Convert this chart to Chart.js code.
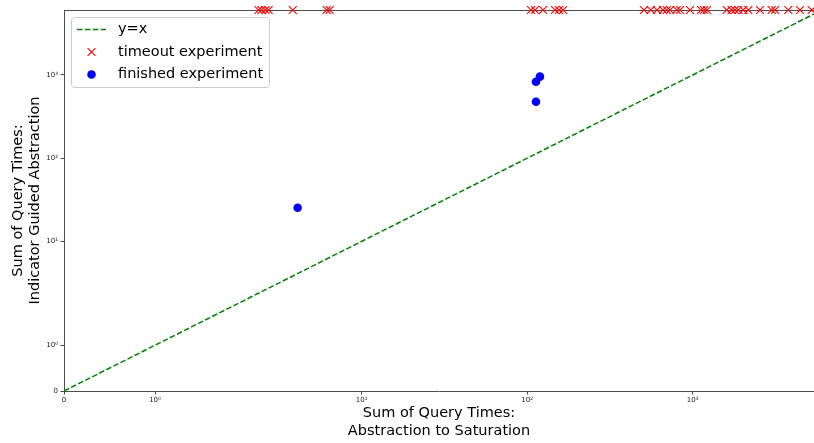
<!DOCTYPE html>
<html><head><meta charset="utf-8">
<script src="https://cdn.jsdelivr.net/npm/chart.js@4.4.1/dist/chart.umd.min.js"></script>
<style>
html,body{margin:0;padding:0;background:#fff;overflow:hidden;width:814px;height:443px}
#wrap{width:814px;height:443px}
</style>
</head><body><div id="wrap"><canvas id="c" width="814" height="443"></canvas></div>
<script>
// ---------- data ----------
const tickValues = [0, 1, 10, 100, 1000];
const tickLabels = ['0', '10\u2070', '10\u00b9', '10\u00b2', '10\u00b3'];
const axisMaxX = 5407;
const axisMaxY = 6040;
const legendLabels = ['y=x', 'timeout experiment', 'finished experiment'];
const xTitle = ['Sum of Query Times:', 'Abstraction to Saturation'];
const yTitle = ['Sum of Query Times:', 'Indicator Guided Abstraction'];

const timeoutX = [2.38, 2.48, 2.62, 2.74, 3.83, 6.14, 6.40, 105.4, 111.4, 124.6, 147.2, 155.7, 164.6,
  507.7, 557.5, 608.5, 661.5, 696.5, 729.2, 800.6, 838.3, 963, 1122, 1170, 1220,
  1605, 1720, 1802, 1886, 2021, 2168, 2551, 3001, 3143, 3781, 4448, 5236];
const timeoutY = [6040, 6040, 6040, 6040, 6040, 6040, 6040, 6040, 6040, 6040, 6040, 6040, 6040,
  6040, 6040, 6040, 6040, 6040, 6040, 6040, 6040, 6040, 6040, 6040, 6040,
  6040, 6040, 6040, 6040, 6040, 6040, 6040, 6040, 6040, 6040, 6040, 6040];
const finishedX = [4.10, 113, 119.4, 113];
const finishedY = [25.3, 830, 955, 477];
const lineX = [0, 5640];
const lineY = [0, 5640];

// ---------- symlog scale (linthresh 2) ----------
const LINTHRESH = 2, LINSCALE = 1.1;
function symlog(v) {
  const a = Math.abs(v), s = v < 0 ? -1 : 1;
  return s * (a <= LINTHRESH ? LINSCALE * a / LINTHRESH : LINSCALE + Math.log10(a / LINTHRESH));
}
function symexp(t) {
  const a = Math.abs(t), s = t < 0 ? -1 : 1;
  return s * (a <= LINSCALE ? a * LINTHRESH / LINSCALE : LINTHRESH * Math.pow(10, a - LINSCALE));
}
class SymlogScale extends Chart.Scale {
  parse(raw) { const v = Number(raw); return (raw === null || raw === undefined || !Number.isFinite(v)) ? null : v; }
  determineDataLimits() {
    const mm = this.getMinMax(false);
    const o = this.options;
    this.min = (o.min != null) ? o.min : mm.min;
    this.max = (o.max != null) ? o.max : mm.max;
  }
  buildTicks() { return tickValues.map(v => ({value: v})); }
  getLabelForValue(v) { return String(v); }
  configure() { super.configure(); this._s = symlog(this.min); this._e = symlog(this.max); }
  getPixelForValue(v) {
    if (v === null || v === undefined || isNaN(v)) return NaN;
    return this.getPixelForDecimal((symlog(v) - this._s) / (this._e - this._s));
  }
  getValueForPixel(p) { return symexp(this._s + this.getDecimalForPixel(p) * (this._e - this._s)); }
}
SymlogScale.id = 'symlog';
SymlogScale.defaults = {};
Chart.register(SymlogScale);

const pts = (xs, ys) => xs.map((x, i) => ({x: x, y: ys[i]}));
const FONT = 'DejaVu Sans';
const SPINE = '#4d4d4d';

const spinePlugin = {
  id: 'spines',
  beforeDatasetsDraw(chart) {
    const {ctx, chartArea: a} = chart;
    ctx.save();
    ctx.strokeStyle = SPINE; ctx.lineWidth = 1;
    ctx.beginPath();
    ctx.moveTo(a.left, a.top + 0.5); ctx.lineTo(a.right, a.top + 0.5);
    ctx.stroke();
    ctx.restore();
  }
};

const legendPlugin = {
  id: 'mplLegend',
  afterDraw(chart) {
    const {ctx, chartArea: a} = chart;
    const ds = chart.data.datasets;
    const line = ds[2], tmo = ds[1], fin = ds[0];
    ctx.save();
    const x0 = a.left + 7.5, y0 = a.top + 7.5, w = 198, h = 70;
    ctx.beginPath();
    ctx.roundRect(x0, y0, w, h, 3);
    ctx.fillStyle = 'rgba(255,255,255,0.8)'; ctx.fill();
    ctx.strokeStyle = '#cccccc'; ctx.lineWidth = 1; ctx.stroke();
    const hx = a.left + 27.5;
    const rows = [a.top + 19.5, a.top + 42, a.top + 64.5];
    ctx.strokeStyle = line.borderColor; ctx.lineWidth = line.borderWidth;
    ctx.setLineDash(line.borderDash);
    ctx.beginPath(); ctx.moveTo(a.left + 13, rows[0]); ctx.lineTo(a.left + 42, rows[0]); ctx.stroke();
    ctx.setLineDash([]);
    const d = tmo.pointRadius * Math.SQRT1_2;
    ctx.strokeStyle = tmo.borderColor; ctx.lineWidth = tmo.borderWidth;
    ctx.beginPath();
    ctx.moveTo(hx - d, rows[1] - d); ctx.lineTo(hx + d, rows[1] + d);
    ctx.moveTo(hx - d, rows[1] + d); ctx.lineTo(hx + d, rows[1] - d);
    ctx.stroke();
    ctx.fillStyle = fin.backgroundColor;
    ctx.beginPath(); ctx.arc(hx, rows[2], fin.pointRadius, 0, Math.PI * 2); ctx.fill();
    ctx.fillStyle = '#000';
    ctx.font = '14.5px "' + FONT + '"';
    ctx.textBaseline = 'middle'; ctx.textAlign = 'left';
    legendLabels.forEach((t, i) => ctx.fillText(t, a.left + 54, rows[i]));
    ctx.restore();
  }
};

const axisCommon = (title, isY) => ({
  type: 'symlog',
  min: 0,
  grid: {display: true, drawOnChartArea: false, drawTicks: true, tickLength: 3.5, color: SPINE, lineWidth: 1},
  border: {display: true, color: SPINE, width: 1},
  ticks: {
    autoSkip: false, maxRotation: 0, minRotation: 0,
    font: {family: FONT, size: 7}, color: '#222',
    padding: isY ? 2.5 : 1,
    callback: (v) => tickLabels[tickValues.indexOf(v)]
  },
  title: {
    display: true, text: title, color: '#000',
    font: {family: FONT, size: 14.5, lineHeight: isY ? '17.5px' : '18px'},
    padding: isY ? {top: 9, bottom: 0} : {top: 0, bottom: 2.5}
  }
});

const xAxis = Object.assign(axisCommon(xTitle, false), {max: axisMaxX,
  afterFit: s => { s.height = 52; s.paddingLeft = 0; s.paddingRight = 0; }});
const yAxis = Object.assign(axisCommon(yTitle, true), {max: axisMaxY,
  afterFit: s => { s.width = 64; s.paddingTop = 0; s.paddingBottom = 0; }});

new Chart(document.getElementById('c'), {
  type: 'scatter',
  data: {
    datasets: [
      {label: legendLabels[2], data: pts(finishedX, finishedY), pointStyle: 'circle', pointRadius: 4.3,
       backgroundColor: 'blue', borderColor: 'blue', borderWidth: 0, clip: false},
      {label: legendLabels[1], data: pts(timeoutX, timeoutY), pointStyle: 'crossRot', pointRadius: 5.6,
       backgroundColor: 'red', borderColor: 'red', borderWidth: 1.1, clip: false},
      {label: legendLabels[0], type: 'line', data: pts(lineX, lineY), showLine: true, fill: false,
       borderColor: 'green', borderWidth: 1.5, borderDash: [5.5, 2.4], pointRadius: 0, clip: true}
    ]
  },
  options: {
    responsive: false, animation: false, events: [],
    devicePixelRatio: 1,
    layout: {autoPadding: false, padding: {top: 10, right: 0, left: 0, bottom: 0}},
    plugins: {legend: {display: false}, tooltip: {enabled: false}},
    scales: {x: xAxis, y: yAxis}
  },
  plugins: [spinePlugin, legendPlugin]
});
</script>
</body></html>
